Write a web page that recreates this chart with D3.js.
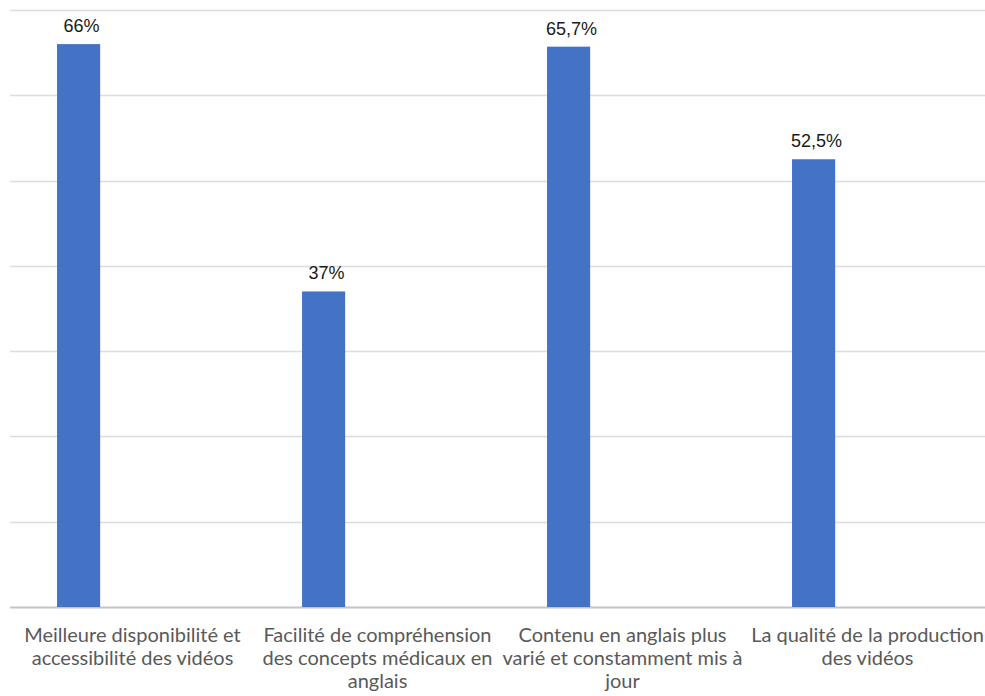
<!DOCTYPE html>
<html>
<head>
<meta charset="utf-8">
<script src="https://cdn.jsdelivr.net/npm/d3@7"></script>
<style>
  html, body { margin: 0; padding: 0; background: #fff; }
  svg { display: block; }
</style>
</head>
<body>
<svg id="chart" width="985" height="696"></svg>
<script>
// Categories (each wrapped over several lines) and their percentages
const categories = [
  "Meilleure disponibilité et accessibilité des vidéos",
  "Facilité de compréhension des concepts médicaux en anglais",
  "Contenu en anglais plus varié et constamment mis à jour",
  "La qualité de la production des vidéos"
];
const categoryLines = [
  ["Meilleure disponibilité et", "accessibilité des vidéos"],
  ["Facilité de compréhension", "des concepts médicaux en", "anglais"],
  ["Contenu en anglais plus", "varié et constamment mis à", "jour"],
  ["La qualité de la production", "des vidéos"]
];
const values = [66, 37, 65.7, 52.5];
const valueLabels = ["66%", "37%", "65,7%", "52,5%"];
const gridTicks = [0, 10, 20, 30, 40, 50, 60, 70];

const svg = d3.select("#chart");
const margin = { top: 10, right: -5, bottom: 89, left: 10 };
const width = 985 - margin.left - margin.right;
const height = 696 - margin.top - margin.bottom;
const g = svg.append("g").attr("transform", `translate(${margin.left},${margin.top})`);

const x = d3.scaleBand().domain(categories).range([0, width]).padding(0);
// Position inside a category band (0 = left edge, 1 = right edge); bars use the left slot
const slot = d3.scaleLinear().domain([0, 1]).range([0, x.bandwidth()]);
const barStart = 0.192, barEnd = 0.368;
const y = d3.scaleLinear().domain([0, 70]).range([height, 0]);

// Horizontal gridlines
g.append("g")
  .selectAll("line")
  .data(gridTicks)
  .join("line")
  .attr("x1", 0)
  .attr("x2", width)
  .attr("y1", d => Math.round(y(d)) + 0.5)
  .attr("y2", d => Math.round(y(d)) + 0.5)
  .attr("stroke", d => d === 0 ? "#c4c4c4" : "#dcdcdc")
  .attr("stroke-width", d => d === 0 ? 2 : 1.5);

// Bars
g.append("g")
  .selectAll("rect")
  .data(values)
  .join("rect")
  .attr("x", (d, i) => x(categories[i]) + slot(barStart))
  .attr("width", slot(barEnd) - slot(barStart))
  .attr("y", d => y(d))
  .attr("height", d => y(0) - y(d))
  .attr("fill", "#4472C4");

// Value labels
g.append("g")
  .selectAll("text")
  .data(values)
  .join("text")
  .attr("x", (d, i) => x(categories[i]) + slot((barStart + barEnd) / 2) + 3)
  .attr("y", d => y(d) - 12)
  .attr("text-anchor", "middle")
  .attr("font-family", "Liberation Sans, Arial, sans-serif")
  .attr("font-size", 18)
  .attr("fill", "#1a1a1a")
  .text((d, i) => valueLabels[i]);

// Category labels
const labels = g.append("g")
  .selectAll("text")
  .data(categories)
  .join("text")
  .attr("x", d => x(d) + x.bandwidth() / 2)
  .attr("y", height + 35)
  .attr("text-anchor", "middle")
  .attr("font-family", "Lato, sans-serif")
  .attr("font-size", 20)
  .attr("fill", "#595959");

labels.selectAll("tspan")
  .data((d, i) => categoryLines[i])
  .join("tspan")
  .attr("x", function() { return d3.select(this.parentNode).attr("x"); })
  .attr("dy", (d, j) => j === 0 ? 0 : 23)
  .text(d => d);
</script>
</body>
</html>
